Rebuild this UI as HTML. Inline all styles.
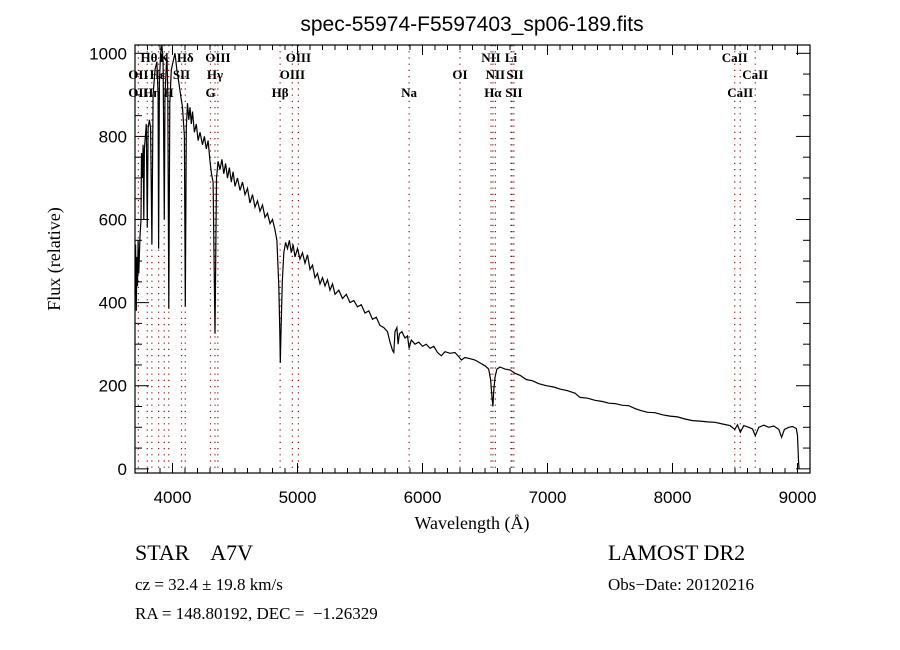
<!DOCTYPE html>
<html><head><meta charset="utf-8"><style>
html,body{margin:0;padding:0;background:#fff;}
svg{display:block;}
text{font-family:"Liberation Serif",serif;fill:#000;}
.tk{font-family:"Liberation Sans",sans-serif;font-size:17px;}
</style></head><body>
<svg id="chart" width="900" height="650" viewBox="0 0 900 650">
<rect x="0" y="0" width="900" height="650" fill="#fff"/>
<text x="472" y="31" text-anchor="middle" style="font-family:'Liberation Sans',sans-serif;font-size:21px">spec-55974-F5597403_sp06-189.fits</text>
<g id="lines"></g>
<g id="labels"></g>
<path id="spec" fill="none" stroke="#000" stroke-width="1.2"/>
<g id="axes"></g>
<rect x="135" y="45" width="675" height="428" fill="none" stroke="#000" stroke-width="1.2"/>
<text x="472" y="529" text-anchor="middle" style="font-size:18px">Wavelength (Å)</text>
<text transform="translate(60,259) rotate(-90)" text-anchor="middle" style="font-size:18px">Flux (relative)</text>
<text x="135" y="560" style="font-size:22px;white-space:pre" xml:space="preserve">STAR    A7V</text>
<text x="135" y="590" style="font-size:17px">cz = 32.4 ± 19.8 km/s</text>
<text x="135" y="619" style="font-size:17px;white-space:pre" xml:space="preserve">RA = 148.80192, DEC =  −1.26329</text>
<text x="608" y="560" style="font-size:22px">LAMOST DR2</text>
<text x="608" y="590" style="font-size:17px">Obs−Date: 20120216</text>
</svg>
<script>
const wave = [3700,3705,3710,3715,3720,3725,3730,3740,3748,3752,3758,3765,3770,3775,3790,3798,3805,3815,3825,3835,3845,3860,3875,3885,3889,3895,3905,3915,3925,3934,3940,3955,3962,3970,3978,3990,4005,4020,4035,4050,4065,4080,4095,4102,4110,4120,4130,4140,4150,4160,4175,4190,4205,4220,4240,4255,4270,4285,4300,4312,4325,4340,4352,4365,4380,4395,4410,4425,4440,4455,4470,4485,4500,4520,4540,4560,4580,4600,4620,4640,4660,4680,4700,4720,4740,4760,4780,4800,4820,4835,4850,4858,4862,4868,4878,4890,4905,4920,4935,4950,4965,4980,5000,5020,5040,5060,5080,5100,5120,5140,5160,5180,5200,5220,5240,5260,5280,5300,5330,5360,5390,5420,5450,5480,5510,5540,5570,5600,5630,5660,5690,5720,5740,5760,5770,5780,5795,5805,5815,5835,5860,5880,5893,5910,5940,5970,6000,6030,6060,6090,6120,6150,6180,6220,6260,6290,6310,6340,6380,6420,6460,6500,6530,6545,6555,6563,6570,6580,6595,6620,6660,6700,6740,6780,6830,6880,6930,6990,7050,7100,7160,7220,7260,7320,7380,7440,7490,7540,7600,7650,7700,7750,7800,7860,7920,7980,8040,8100,8160,8220,8280,8340,8400,8460,8498,8520,8542,8570,8610,8640,8662,8690,8730,8770,8810,8850,8873,8895,8930,8960,8990,9000,9008,9012];
const flux = [420,540,380,510,440,550,470,560,600,760,700,780,600,770,830,580,820,840,820,540,900,960,980,900,530,930,1000,1020,980,600,900,1000,900,385,880,960,980,1000,960,930,900,870,800,390,820,880,840,870,830,860,810,830,790,810,780,800,770,790,740,710,690,325,700,740,720,745,710,735,700,725,690,715,680,700,670,690,660,675,640,660,630,645,620,635,605,615,590,600,575,550,440,330,255,330,450,520,545,530,550,520,540,510,530,505,520,495,515,480,490,460,470,445,460,440,455,430,445,420,430,410,420,400,405,390,395,375,380,360,365,345,340,330,305,285,280,330,340,300,325,330,315,320,290,310,300,305,295,300,290,295,280,272,282,278,280,270,262,268,265,262,255,248,240,215,175,150,190,220,240,245,240,238,230,225,215,212,205,200,197,192,188,182,172,170,165,162,158,157,153,152,145,140,136,135,130,127,125,120,116,115,113,112,108,104,95,106,88,104,100,96,80,100,105,100,103,95,76,95,100,102,97,80,20,0];
const lineWaves = [3727,3798,3835,3889,3934,3970,4072,4102,4304,4340,4363,4861,4959,5007,5893,6300,6548,6563,6583,6708,6716,6731,8498,8542,8662];
const labelText = ["Hθ","K","Hδ","OIII","OIII","NII","Li","CaII","OII","Hε","SII","Hγ","OIII","OI","NII","SII","CaII","OII","Hη","H","G","Hβ","Na","Hα","SII","CaII"];
const labelWave = [3812,3934,4102,4363,5007,6548,6708,8498,3727,3880,4072,4340,4959,6300,6583,6740,8662,3727,3835,3968,4304,4861,5893,6563,6731,8542];
const labelRow = [0,0,0,0,0,0,0,0,1,1,1,1,1,1,1,1,1,2,2,2,2,2,2,2,2,2];
const xTicks = [4000,5000,6000,7000,8000,9000];
const yTicks = [0,200,400,600,800,1000];

const X0=135,X1=810,Y0=473,Y1=45, WMIN=3700,WMAX=9100,FMIN=-10,FMAX=1020;
function xs(w){return X0+(w-WMIN)/(WMAX-WMIN)*(X1-X0);}
function ys(f){return Y0-(f-FMIN)/(FMAX-FMIN)*(Y0-Y1);}
const NS="http://www.w3.org/2000/svg";
function mk(tag,attrs,parent){const e=document.createElementNS(NS,tag);for(const k in attrs)e.setAttribute(k,attrs[k]);parent.appendChild(e);return e;}

const lg=document.getElementById('lines');
lineWaves.forEach(w=>{
  const l=mk('line',{x1:xs(w),x2:xs(w),y1:Y1,y2:Y0,stroke:'#7a1a1a','stroke-width':1.2,'stroke-dasharray':'1.2,5'},lg);
  
  
});
const lb=document.getElementById('labels');
const rowY=[62,79,97];
labelText.forEach((t,i)=>{
  const e=mk('text',{x:xs(labelWave[i]),y:rowY[labelRow[i]],'text-anchor':'middle','font-size':'13','font-weight':'bold'},lb);
  e.textContent=t;
  
  
});

let d='';
wave.forEach((w,i)=>{d+=(i?'L':'M')+xs(w).toFixed(1)+','+ys(flux[i]).toFixed(1);});
document.getElementById('spec').setAttribute('d',d);

const ax=document.getElementById('axes');
for(let w=3700;w<=9100;w+=100){
  const major=w%1000===0, len=major?10:5;
  mk('line',{x1:xs(w),x2:xs(w),y1:Y0,y2:Y0-len,stroke:'#000'},ax);
  mk('line',{x1:xs(w),x2:xs(w),y1:Y1,y2:Y1+len,stroke:'#000'},ax);
}
for(let f=0;f<=1000;f+=50){
  const major=f%200===0, len=major?14:7;
  mk('line',{x1:X0,x2:X0+len,y1:ys(f),y2:ys(f),stroke:'#000'},ax);
  mk('line',{x1:X1,x2:X1-len,y1:ys(f),y2:ys(f),stroke:'#000'},ax);
}
xTicks.forEach(v=>{
  const t=mk('text',{x:xs(v),y:503,'text-anchor':'middle',class:'tk'},ax);
  t.textContent=v;
  
  
});
yTicks.forEach(v=>{
  const t=mk('text',{x:127,y:ys(v)+6,'text-anchor':'end',class:'tk'},ax);
  t.textContent=v;
  
  
});
</script>
</body></html>
